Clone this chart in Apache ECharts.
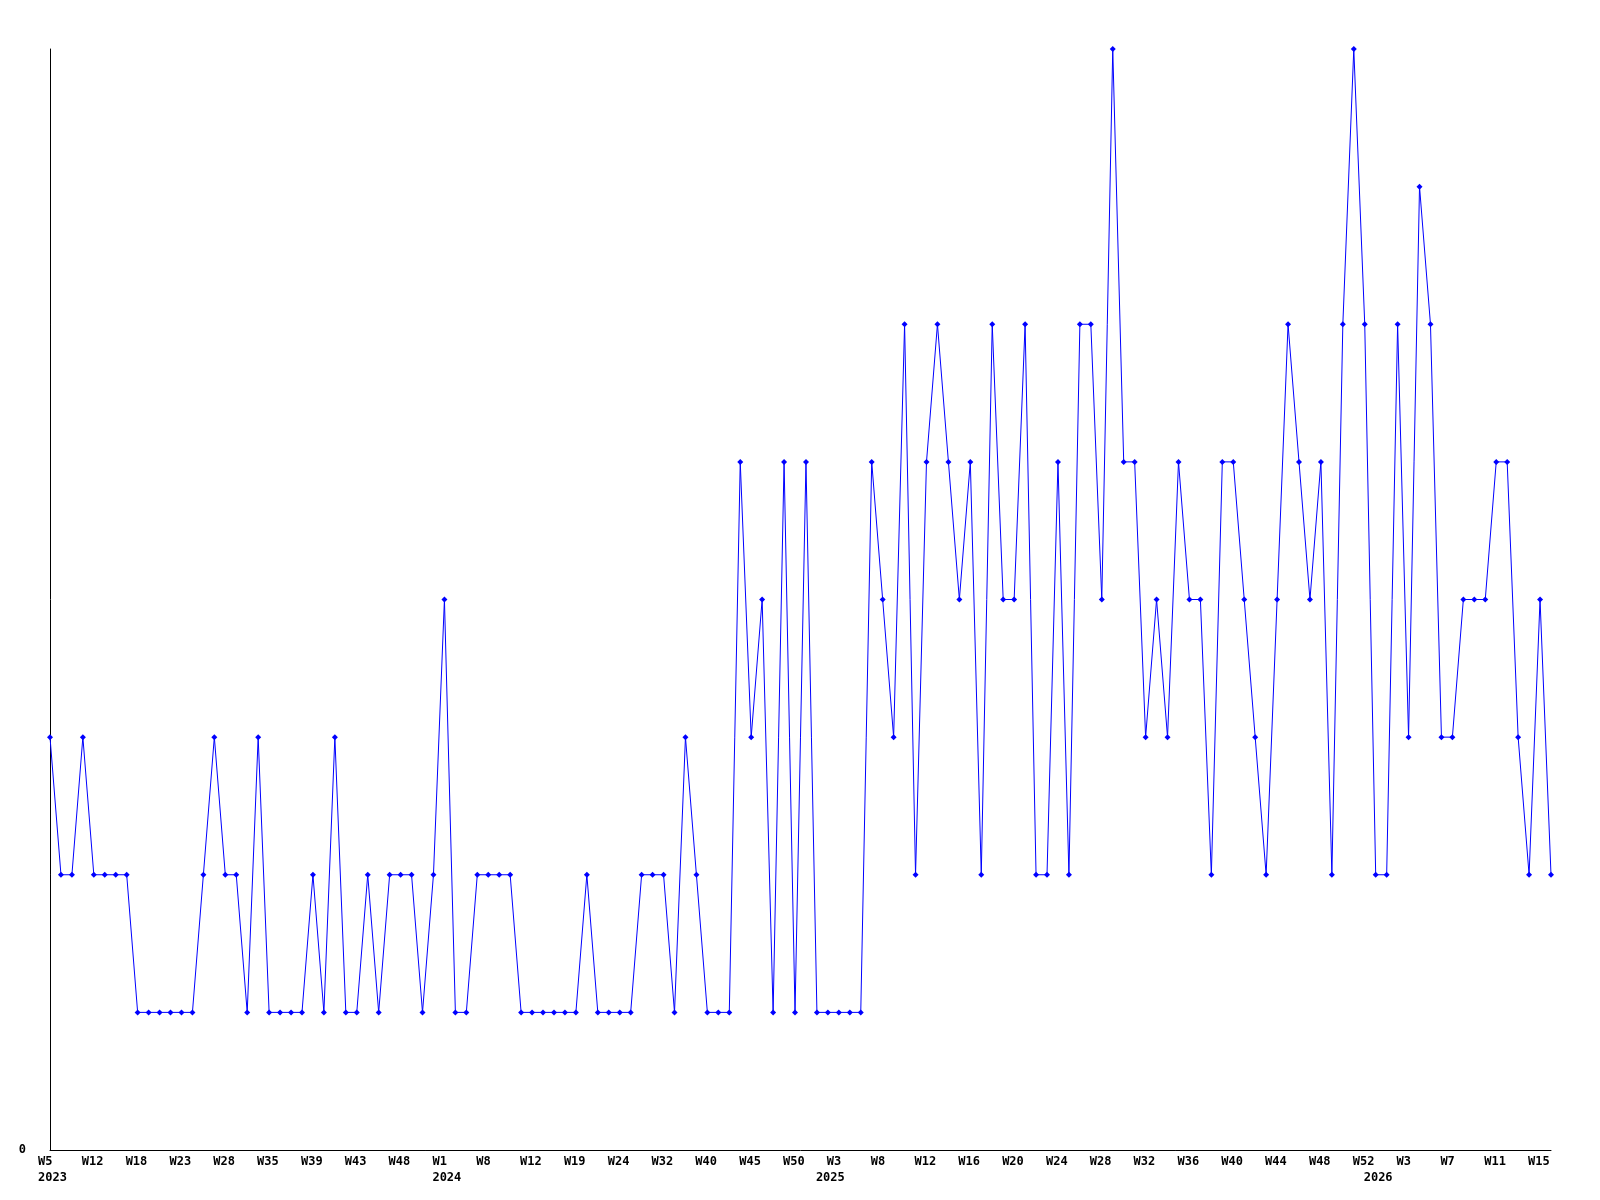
<!DOCTYPE html>
<html>
<head>
<meta charset="utf-8">
<script src="https://cdn.jsdelivr.net/npm/echarts@6/dist/echarts.min.js"></script>
<style>
  html, body { margin: 0; padding: 0; background: #ffffff; }
  #chart { width: 1600px; height: 1200px; }
</style>
</head>
<body>
<div id="chart"></div>
<script>
// Week of each data point (weeks with no value are absent from the series)
const weeks = [
  5, 7, 9, 10, 12, 13, 15, 16, 18, 19, 20, 22, 23, 24, 26, 27, 28, 30, 32, 33,
  35, 36, 37, 38, 39, 40, 41, 42, 43, 44, 46, 47, 48, 49, 50, 52,
  1, 3, 5, 6, 8, 9, 10, 11, 12, 14, 16, 17, 19, 20, 21, 23, 24, 26, 28, 30,
  32, 34, 36, 38, 40, 41, 43, 44, 45, 46, 48, 49, 50, 51, 52,
  1, 3, 5, 6, 7, 8, 9, 10, 11, 12, 13, 14, 15, 16, 17, 18, 19, 20, 21, 22,
  23, 24, 25, 26, 27, 28, 29, 30, 31, 32, 33, 34, 35, 36, 37, 38, 39, 40, 41, 42,
  43, 44, 45, 46, 47, 48, 49, 50, 51, 52,
  0, 1, 2, 3, 4, 5, 6, 7, 8, 9, 10, 11, 12, 13, 14, 15, 16
];
// Year of each data point
const years = [
  2023, 2023, 2023, 2023, 2023, 2023, 2023, 2023, 2023, 2023, 2023, 2023, 2023, 2023, 2023, 2023, 2023, 2023, 2023, 2023,
  2023, 2023, 2023, 2023, 2023, 2023, 2023, 2023, 2023, 2023, 2023, 2023, 2023, 2023, 2023, 2023,
  2024, 2024, 2024, 2024, 2024, 2024, 2024, 2024, 2024, 2024, 2024, 2024, 2024, 2024, 2024, 2024, 2024, 2024, 2024, 2024,
  2024, 2024, 2024, 2024, 2024, 2024, 2024, 2024, 2024, 2024, 2024, 2024, 2024, 2024, 2024,
  2025, 2025, 2025, 2025, 2025, 2025, 2025, 2025, 2025, 2025, 2025, 2025, 2025, 2025, 2025, 2025, 2025, 2025, 2025, 2025,
  2025, 2025, 2025, 2025, 2025, 2025, 2025, 2025, 2025, 2025, 2025, 2025, 2025, 2025, 2025, 2025, 2025, 2025, 2025, 2025,
  2025, 2025, 2025, 2025, 2025, 2025, 2025, 2025, 2025, 2025,
  2026, 2026, 2026, 2026, 2026, 2026, 2026, 2026, 2026, 2026, 2026, 2026, 2026, 2026, 2026, 2026, 2026
];
// Value per data point
const values = [
  3, 2, 2, 3, 2, 2, 2, 2, 1, 1, 1, 1, 1, 1, 2, 3, 2, 2, 1, 3,
  1, 1, 1, 1, 2, 1, 3, 1, 1, 2, 1, 2, 2, 2, 1, 2,
  4, 1, 1, 2, 2, 2, 2, 1, 1, 1, 1, 1, 1, 2, 1, 1, 1, 1, 2, 2,
  2, 1, 3, 2, 1, 1, 1, 5, 3, 4, 1, 5, 1, 5, 1,
  1, 1, 1, 1, 5, 4, 3, 6, 2, 5, 6, 5, 4, 5, 2, 6, 4, 4, 6, 2,
  2, 5, 2, 6, 6, 4, 8, 5, 5, 3, 4, 3, 5, 4, 4, 2, 5, 5, 4, 3,
  2, 4, 6, 5, 4, 5, 2, 6, 8, 6,
  2, 2, 6, 3, 7, 6, 3, 3, 4, 4, 4, 5, 5, 3, 2, 4, 2
];
const yMin = 0;
const yMax = 8;

const categories = weeks.map((w, i) => 'W' + w + ' ' + years[i]);

const FONT = "'DejaVu Sans Mono', 'Liberation Mono', monospace";
const labelStyle = {
  fontFamily: FONT,
  fontSize: 12,
  fontWeight: 'bold',
  color: '#000000'
};

const chart = echarts.init(document.getElementById('chart'), null, { renderer: 'canvas' });
chart.setOption({
  animation: false,
  backgroundColor: '#ffffff',
  grid: {
    left: 50, right: 49, top: 49, bottom: 50,
    containLabel: false,
    outerBoundsMode: 'none'
  },
  xAxis: [
    {
      type: 'category',
      position: 'bottom',
      data: categories,
      boundaryGap: false,
      axisLine: { show: true, onZero: false, lineStyle: { color: '#000000', width: 1 } },
      axisTick: { show: false },
      splitLine: { show: false },
      axisLabel: Object.assign({}, labelStyle, {
        interval: 3,
        margin: 6,
        align: 'left',
        padding: [0, 0, 0, -12],
        formatter: (v, i) => 'W' + weeks[i]
      })
    },
    {
      type: 'category',
      position: 'bottom',
      data: categories,
      boundaryGap: false,
      axisLine: { show: false },
      axisTick: { show: false },
      splitLine: { show: false },
      axisLabel: Object.assign({}, labelStyle, {
        interval: (i) => i === 0 || years[i] !== years[i - 1],
        margin: 22,
        align: 'left',
        padding: [0, 0, 0, -12],
        formatter: (v, i) => String(years[i])
      })
    }
  ],
  yAxis: {
    type: 'value',
    min: yMin,
    max: yMax,
    interval: 8,
    axisLine: { show: true, lineStyle: { color: '#000000', width: 1 } },
    axisTick: { show: false },
    splitLine: { show: false },
    axisLabel: Object.assign({}, labelStyle, {
      margin: 24,
      formatter: (v) => (v === 0 ? '0' : '')
    })
  },
  series: [
    {
      type: 'line',
      xAxisIndex: 0,
      data: values,
      symbol: 'diamond',
      symbolSize: 6,
      showAllSymbol: true,
      itemStyle: { color: '#0000ff' },
      lineStyle: { color: '#0000ff', width: 1 },
      emphasis: { disabled: true }
    }
  ]
});
</script>
</body>
</html>
